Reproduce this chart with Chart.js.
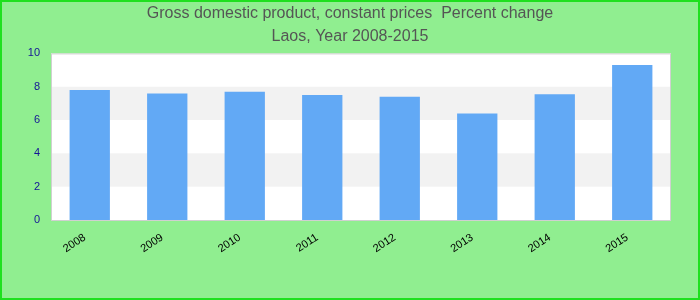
<!DOCTYPE html>
<html>
<head>
<meta charset="utf-8">
<script src="https://cdn.jsdelivr.net/npm/chart.js@4"></script>
<style>
  body { margin:0; background:#fff; }
  #wrap { width:700px; height:300px; }
</style>
</head>
<body>
<div id="wrap"><canvas id="gdpChart" width="700" height="300"></canvas></div>
<script>
// Laos GDP growth
const years = ["2008","2009","2010","2011","2012","2013","2014","2015"];
const growth = [7.8, 7.6, 7.7, 7.5, 7.4, 6.4, 7.55, 9.3];
const yTicks = [0, 2, 4, 6, 8, 10];
const titleLines = ["Gross domestic product, constant prices  Percent change", "Laos, Year 2008-2015"];

// page background + outer border, striped plot bands, plot border
const decor = {
  id: "decor",
  beforeDraw(chart){
    const c = chart.ctx, w = chart.width, h = chart.height;
    c.save();
    c.fillStyle = "#90ee90";
    c.fillRect(0, 0, w, h);
    c.strokeStyle = "#1fe01f";
    c.lineWidth = 2;
    c.strokeRect(1, 1, w - 2, h - 2);
    const a = chart.chartArea, y = chart.scales.y;
    c.fillStyle = "#fff";
    c.fillRect(a.left, a.top, a.right - a.left, a.bottom - a.top);
    c.fillStyle = "#f2f2f2";
    for(let i = 1; i < yTicks.length - 1; i += 2){
      const top = y.getPixelForValue(yTicks[i+1]), bot = y.getPixelForValue(yTicks[i]);
      c.fillRect(a.left, top, a.right - a.left, bot - top);
    }
    c.restore();
  },
  afterDatasetsDraw(chart){
    const c = chart.ctx, a = chart.chartArea;
    c.save();
    c.strokeStyle = "#d0d0d0";
    c.lineWidth = 1;
    c.strokeRect(a.left + 0.5, a.top + 0.5, a.right - a.left - 1, a.bottom - a.top);
    c.restore();
  }
};

new Chart(document.getElementById("gdpChart"), {
  type: "bar",
  data: {
    labels: years,
    datasets: [{
      data: growth,
      backgroundColor: "#62a9f5",
      barPercentage: 0.52,
      categoryPercentage: 1
    }]
  },
  options: {
    responsive: false,
    animation: false,
    layout: { padding: 0 },
    plugins: {
      legend: { display: false },
      tooltip: { enabled: false },
      title: {
        display: true,
        text: titleLines,
        color: "#555",
        font: { family: "'Liberation Sans', Arial, sans-serif", size: 16, weight: "normal", lineHeight: 1.45 },
        padding: { top: 2, bottom: 5 }
      }
    },
    scales: {
      x: {
        grid: { display: false },
        border: { display: false },
        ticks: {
          color: "#000",
          font: { family: "'Liberation Sans', Arial, sans-serif", size: 11 },
          minRotation: 33, maxRotation: 33,
          padding: 3,
          labelOffset: -5
        },
        afterFit: s => { s.height = 80; }
      },
      y: {
        min: 0, max: 10,
        afterBuildTicks: s => { s.ticks = yTicks.map(v => ({ value: v })); },
        grid: { display: false, drawTicks: false },
        border: { display: false },
        ticks: {
          color: "#141496",
          font: { family: "'Liberation Sans', Arial, sans-serif", size: 11 },
          padding: 11
        },
        afterFit: s => { s.width = 51; }
      },
      // empty right-hand axis, only keeps the margin on the right
      yRight: {
        position: "right",
        min: 0, max: 10,
        grid: { display: false, drawTicks: false },
        border: { display: false },
        ticks: { display: false },
        afterFit: s => { s.width = 29; }
      }
    }
  },
  plugins: [decor]
});
</script>
</body>
</html>
